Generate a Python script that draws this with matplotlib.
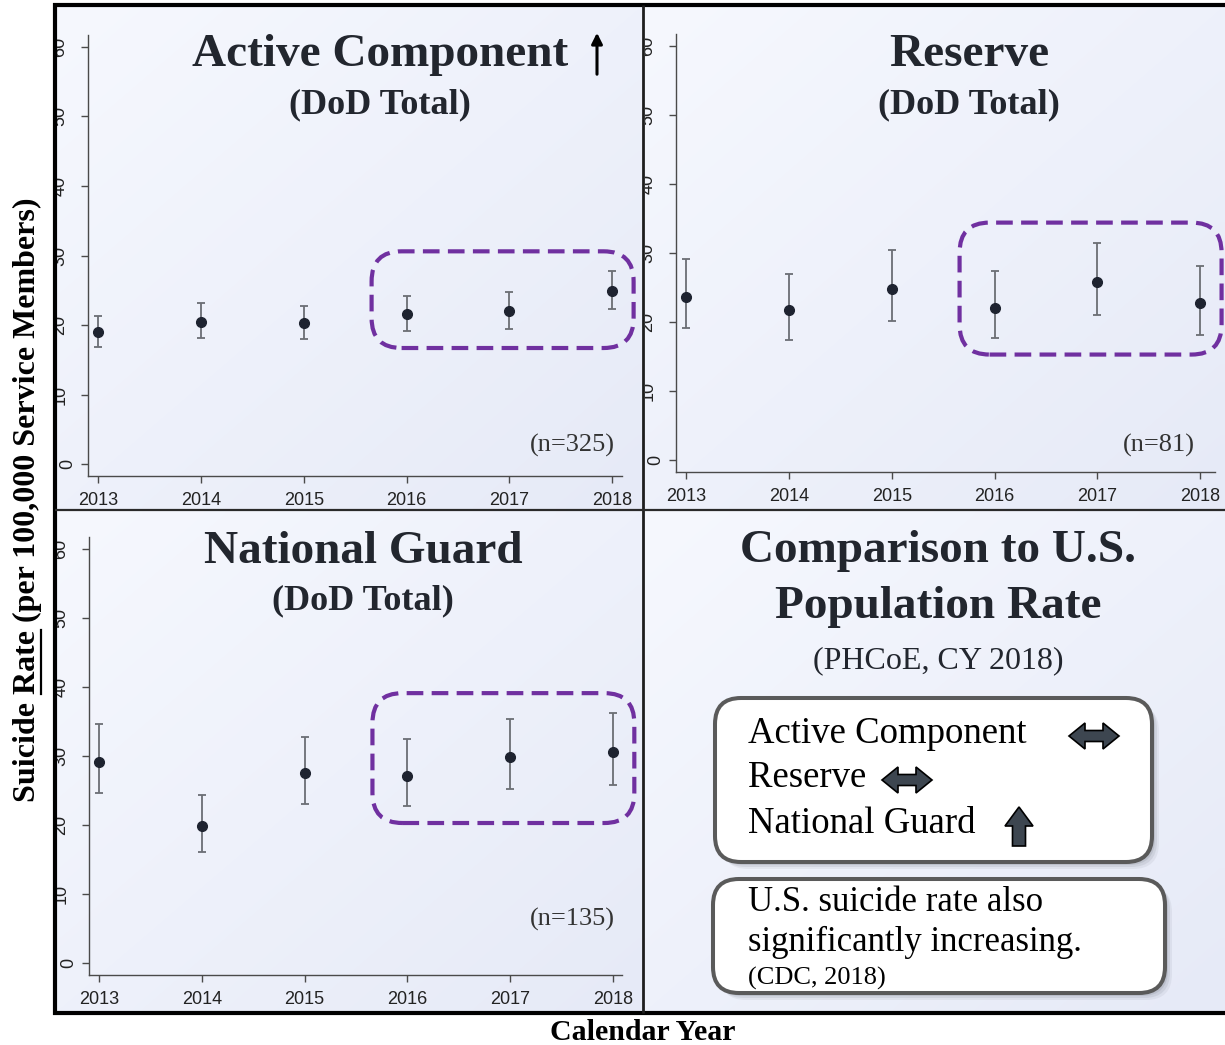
import numpy as np
import matplotlib
matplotlib.use("Agg")
from matplotlib import pyplot as plt
from matplotlib import patches, transforms

years = [2013, 2014, 2015, 2016, 2017, 2018]
highlight_years = [2016, 2017, 2018]
y_ticks = [0, 10, 20, 30, 40, 50, 60]

active_rate = [19.0, 20.5, 20.3, 21.6, 22.0, 24.9]
active_low = [16.8, 18.2, 18.0, 19.1, 19.5, 22.3]
active_high = [21.3, 23.1, 22.8, 24.2, 24.7, 27.7]

reserve_rate = [23.7, 21.7, 24.8, 22.1, 25.8, 22.7]
reserve_low = [19.2, 17.4, 20.2, 17.7, 21.0, 18.1]
reserve_high = [29.1, 26.9, 30.4, 27.4, 31.5, 28.1]

guard_rate = [29.2, 19.8, 27.5, 27.1, 29.8, 30.6]
guard_low = [24.7, 16.1, 23.1, 22.7, 25.2, 25.8]
guard_high = [34.7, 24.3, 32.8, 32.4, 35.3, 36.2]

panel_titles = ["Active Component", "Reserve", "National Guard"]
panel_subtitle = "(DoD Total)"
panel_counts = ["(n=325)", "(n=81)", "(n=135)"]

comparison_title = ["Comparison to U.S.", "Population Rate"]
comparison_source = "(PHCoE, CY 2018)"
comparison_items = ["Active Component", "Reserve", "National Guard"]
comparison_trends = ["flat", "flat", "up"]
us_note = ["U.S. suicide rate also", "significantly increasing."]
us_source = "(CDC, 2018)"

W, H = 1225, 1045
PURPLE = "#7030a0"
TICK_FONT = ["Liberation Sans Narrow", "Liberation Sans"]


def frac(x0, y0, x1, y1):
    return [x0 / W, 1 - y1 / H, (x1 - x0) / W, (y1 - y0) / H]


def gradient(ax, x0, y0, x1, y1):
    gx, gy = np.meshgrid(np.linspace(0, 1, 64), np.linspace(0, 1, 64))
    t = (gx + gy) / 2
    c0 = np.array([246, 248, 254]) / 255
    c1 = np.array([230, 234, 247]) / 255
    img = c0 + (c1 - c0) * t[..., None]
    ax.imshow(img, extent=(x0, x1, y1, y0), aspect="auto", interpolation="bilinear")


def double_arrow(ax, cx, cy, length=50, head_h=26, shaft_h=11, head_l=16):
    l2, H2, h2 = length / 2, head_h / 2, shaft_h / 2
    pts = [(cx - l2, cy), (cx - l2 + head_l, cy - H2), (cx - l2 + head_l, cy - h2),
           (cx + l2 - head_l, cy - h2), (cx + l2 - head_l, cy - H2), (cx + l2, cy),
           (cx + l2 - head_l, cy + H2), (cx + l2 - head_l, cy + h2),
           (cx - l2 + head_l, cy + h2), (cx - l2 + head_l, cy + H2)]
    ax.add_patch(patches.Polygon(pts, closed=True, facecolor="#3d4650", edgecolor="black", lw=1.2))


def up_arrow(ax, cx, top, height=39, head_w=28, shaft_w=13, head_h=19):
    w2, s2 = head_w / 2, shaft_w / 2
    pts = [(cx, top), (cx + w2, top + head_h), (cx + s2, top + head_h), (cx + s2, top + height),
           (cx - s2, top + height), (cx - s2, top + head_h), (cx - w2, top + head_h)]
    ax.add_patch(patches.Polygon(pts, closed=True, facecolor="#3d4650", edgecolor="black", lw=1.2))


def white_box(ax, x0, y0, x1, y1):
    for k, a in [(7, 0.10), (5, 0.15), (3, 0.2)]:
        ax.add_patch(patches.FancyBboxPatch((x0 + k, y0 + k), x1 - x0, y1 - y0,
                                            boxstyle="round,pad=0,rounding_size=26",
                                            facecolor="#7a7f8c", edgecolor="none", alpha=a))
    ax.add_patch(patches.FancyBboxPatch((x0, y0), x1 - x0, y1 - y0,
                                        boxstyle="round,pad=0,rounding_size=26",
                                        facecolor="white", edgecolor="#5a5a5a", lw=2.9))


def draw_panel(fig, layout, rate, low, high):
    ax = fig.add_axes(frac(*layout["axes"]))
    ax.patch.set_alpha(0)
    rate = np.array(rate)
    err = [rate - np.array(low), np.array(high) - rate]
    ax.errorbar(years, rate, yerr=err, fmt="o", color="#1e2330", markersize=7,
                ecolor="#6b6e74", elinewidth=1.3, capsize=3.2, capthick=1.3, zorder=3)
    ax.set_xlim(2012.9, layout["xmax"])
    ax.set_ylim(-1.7, 61.7)
    for side in ["top", "right"]:
        ax.spines[side].set_visible(False)
    for side in ["left", "bottom"]:
        ax.spines[side].set_color("#4a4a4a")
        ax.spines[side].set_linewidth(1.0)
    ax.set_xticks(years)
    ax.set_xticklabels([str(y) for y in years], family=TICK_FONT, fontsize=13, color="#222222")
    ax.set_yticks(y_ticks)
    ax.set_yticklabels([])
    ax.tick_params(length=5, width=1.0, color="#4a4a4a", pad=3)
    ax.tick_params(axis="x", pad=6.5)

    cx0, cy0, cx1, cy1 = layout["clip"]
    clip = transforms.TransformedBbox(
        transforms.Bbox.from_extents(cx0 / W, 1 - cy1 / H, cx1 / W, 1 - cy0 / H), fig.transFigure)
    for t in y_ticks:
        dx = -20 if t == 0 else -28
        lab = ax.annotate(str(t), xy=(0, t), xycoords=("axes fraction", "data"),
                          xytext=(dx * 0.72, 0), textcoords="offset points", rotation=90,
                          ha="center", va="center", family=TICK_FONT, fontsize=13, color="#222222")
        lab.set_clip_box(clip)
        lab.set_clip_on(True)

    # dashed highlight around the last three years
    idx = [years.index(y) for y in highlight_years]
    x0, x1 = highlight_years[0] - 0.34, highlight_years[-1] + 0.21
    y0 = min(low[i] for i in idx) - 2.4
    y1 = max(high[i] for i in idx) + 2.9
    px_x = ax.bbox.width / (ax.get_xlim()[1] - ax.get_xlim()[0])
    px_y = ax.bbox.height / (ax.get_ylim()[1] - ax.get_ylim()[0])
    ax.add_patch(patches.FancyBboxPatch((x0, y0), x1 - x0, y1 - y0,
                                        boxstyle="round,pad=0,rounding_size=%f" % (30 / px_x),
                                        mutation_aspect=px_x / px_y, fill=False,
                                        edgecolor=PURPLE, lw=3.0, linestyle=(0, (4, 2)),
                                        clip_on=False, zorder=4))
    return ax


def main():
    plt.rcParams["font.family"] = "serif"
    plt.rcParams["font.serif"] = ["Liberation Serif", "DejaVu Serif"]
    fig = plt.figure(figsize=(W / 100, H / 100), dpi=100)

    bg = fig.add_axes([0, 0, 1, 1], zorder=-1)
    bg.axis("off")
    for rect in [(55, 5, 643, 510), (643, 5, W, 510), (55, 510, 643, 1013), (643, 510, W, 1013)]:
        gradient(bg, *rect)
    bg.set_xlim(0, W)
    bg.set_ylim(H, 0)

    layouts = [
        dict(axes=(88, 35, 622, 476), clip=(57, 7, 642, 509), xmax=2018.097,
             title_x=380, title_y=66, sub_y=113, count_x=615, count_y=452),
        dict(axes=(676, 34, 1215, 472), clip=(645, 7, W, 509), xmax=2018.146,
             title_x=969, title_y=66, sub_y=113, count_x=1195, count_y=452),
        dict(axes=(89, 537, 622, 975), clip=(57, 511, 642, 1011), xmax=2018.09,
             title_x=363, title_y=563, sub_y=609, count_x=615, count_y=926),
    ]
    series = [(active_rate, active_low, active_high),
              (reserve_rate, reserve_low, reserve_high),
              (guard_rate, guard_low, guard_high)]
    for layout, (r, lo, hi) in zip(layouts, series):
        draw_panel(fig, layout, r, lo, hi)

    ov = fig.add_axes([0, 0, 1, 1], zorder=5)
    ov.patch.set_alpha(0)
    ov.set_xlim(0, W)
    ov.set_ylim(H, 0)
    ov.axis("off")
    txt = "#22262e"
    for layout, title, count in zip(layouts, panel_titles, panel_counts):
        ov.text(layout["title_x"], layout["title_y"], title, ha="center", va="baseline",
                fontsize=34, fontweight="bold", color=txt)
        ov.text(layout["title_x"], layout["sub_y"], panel_subtitle, ha="center", va="baseline",
                fontsize=26, fontweight="bold", color=txt)
        ov.text(layout["count_x"], layout["count_y"], count, ha="right", va="baseline",
                fontsize=19, color="#333333")
    ov.annotate("", xy=(597, 30), xytext=(597, 77),
                arrowprops=dict(arrowstyle="-|>", lw=2.2, color="black", mutation_scale=16))

    # comparison panel
    ov.text(938, 562, comparison_title[0], ha="center", va="baseline", fontsize=34,
            fontweight="bold", color=txt)
    ov.text(938, 618, comparison_title[1], ha="center", va="baseline", fontsize=34,
            fontweight="bold", color=txt)
    ov.text(938, 668, comparison_source, ha="center", va="baseline", fontsize=23, color=txt)

    white_box(ov, 715, 698, 1152, 862)
    white_box(ov, 713, 879, 1165, 993)
    item_y = [743, 787, 833]
    arrow_x = [1094, 907, 1019]
    for name, trend, y, x in zip(comparison_items, comparison_trends, item_y, arrow_x):
        ov.text(748, y, name, ha="left", va="baseline", fontsize=26.5, color="black")
        if trend == "up":
            up_arrow(ov, x, y - 26)
        else:
            double_arrow(ov, x, y - 7)
    ov.text(748, 911, us_note[0], ha="left", va="baseline", fontsize=25, color="black")
    ov.text(748, 951, us_note[1], ha="left", va="baseline", fontsize=25, color="black")
    ov.text(748, 985, us_source, ha="left", va="baseline", fontsize=19, color="black")

    # frame and dividers
    ov.add_patch(patches.Rectangle((0, 0), 53, H, facecolor="white", edgecolor="none"))
    ov.plot([55, 55], [3, 1015], color="black", lw=3.0, solid_capstyle="butt")
    ov.plot([53, W], [5, 5], color="black", lw=3.0, solid_capstyle="butt")
    ov.plot([53, W], [1013, 1013], color="black", lw=3.0, solid_capstyle="butt")
    ov.plot([643, 643], [5, 1013], color="#1e1e1e", lw=2.0, solid_capstyle="butt")
    ov.plot([55, W], [510, 510], color="#2a2a2a", lw=1.6, solid_capstyle="butt")

    ylabel = "Suicide Rate (per 100,000 Service Members)"
    ov.text(27, 500, ylabel, rotation=90, ha="center", va="center", fontsize=23,
            fontweight="bold", color="black")
    ov.text(643, 1040, "Calendar Year", ha="center", va="baseline", fontsize=21.5,
            fontweight="bold", color="black")

    # underline "Rate" in the rotated label
    renderer = fig.canvas.get_renderer()
    prop = matplotlib.font_manager.FontProperties(family="serif", weight="bold", size=23)
    w_full = renderer.get_text_width_height_descent(ylabel, prop, ismath=False)[0]
    w_end = renderer.get_text_width_height_descent("Suicide Rate", prop, ismath=False)[0]
    w_rate = renderer.get_text_width_height_descent("Rate", prop, ismath=False)[0]
    start = 500 + w_full / 2
    ov.plot([41, 41], [start - w_end + w_rate, start - w_end], color="black", lw=1.6)

    fig.savefig("out.png", dpi=100)


if __name__ == "__main__":
    main()
